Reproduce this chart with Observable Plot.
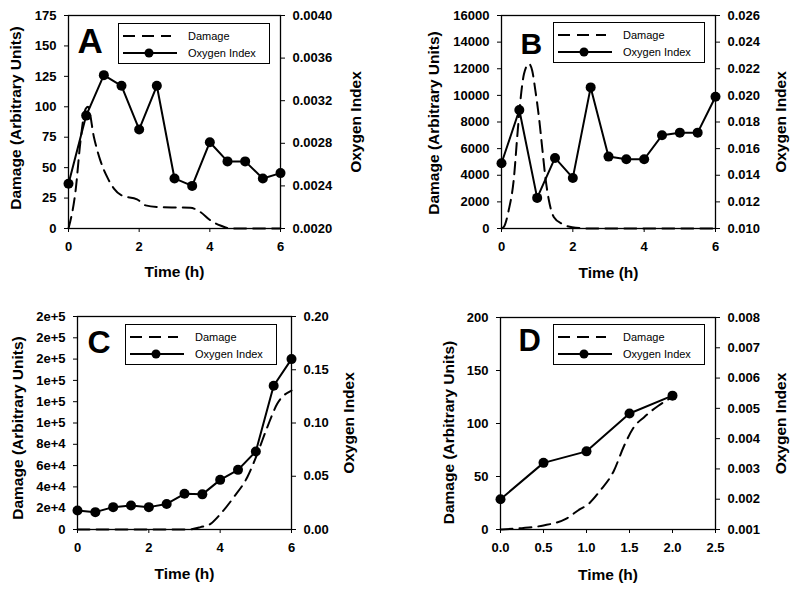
<!DOCTYPE html>
<html>
<head>
<meta charset="utf-8">
<script src="https://cdn.jsdelivr.net/npm/d3@7"></script>
<script src="https://cdn.jsdelivr.net/npm/@observablehq/plot@0.6"></script>
<style>
  body { margin: 0; background: #fff; }
  #root { position: relative; width: 800px; height: 594px; font-family: "Liberation Sans", Arial, sans-serif; color: #000; }
  .panel { position: absolute; width: 400px; height: 297px; }
  .panel svg.layer { position: absolute; left: 0; top: 0; }
  .legend { position: absolute; width: 150px; height: 39px; border: 1px solid #000; background: #fff; }
  .legend svg { display: block; }
</style>
</head>
<body>
<div id="root"></div>
<script>
// ---------- Panel A ----------
const timeA = [0, 0.5, 1, 1.5, 2, 2.5, 3, 3.5, 4, 4.5, 5, 5.5, 6];
const oxygenA = [0.00242, 0.00306, 0.00344, 0.00334, 0.00293, 0.00334, 0.00247, 0.00240, 0.00281, 0.00263, 0.00263, 0.00247, 0.00252];
const damageTimeA = [0, 0.2, 0.34, 0.48, 0.55, 0.72, 0.9, 1.1, 1.28, 1.52, 1.94, 2.18, 2.6, 3.45, 3.74, 4.02, 4.3, 4.6, 5, 5.5, 6];
const damageA = [0, 31, 72, 98, 100, 75, 56, 42, 33, 27, 24, 19, 17.5, 17, 13.4, 6.6, 2.5, 0, 0, 0, 0];
const damageTicksA = [0, 25, 50, 75, 100, 125, 150, 175];
const oxygenTicksA = [0.0020, 0.0024, 0.0028, 0.0032, 0.0036, 0.0040];

// ---------- Panel B ----------
const timeB = [0, 0.5, 1, 1.5, 2, 2.5, 3, 3.5, 4, 4.5, 5, 5.5, 6];
const oxygenB = [0.0149, 0.0189, 0.0123, 0.0153, 0.0138, 0.0206, 0.0154, 0.0152, 0.0152, 0.0170, 0.0172, 0.0172, 0.0199];
const damageTimeB = [0, 0.06, 0.2, 0.35, 0.44, 0.53, 0.63, 0.77, 0.86, 0.95, 1.05, 1.14, 1.23, 1.33, 1.47, 1.7, 1.98, 2.5, 3, 4, 5, 6];
const damageB = [0, 100, 1350, 3850, 6860, 9600, 11600, 12370, 11870, 10360, 8360, 6100, 3850, 2100, 850, 350, 100, 0, 0, 0, 0, 0];
const damageTicksB = [0, 2000, 4000, 6000, 8000, 10000, 12000, 14000, 16000];
const oxygenTicksB = [0.010, 0.012, 0.014, 0.016, 0.018, 0.020, 0.022, 0.024, 0.026];

// ---------- Panel C ----------
const timeC = [0, 0.5, 1, 1.5, 2, 2.5, 3, 3.5, 4, 4.5, 5, 5.5, 6];
const oxygenC = [0.0178, 0.0163, 0.0210, 0.0225, 0.0210, 0.0240, 0.0335, 0.0330, 0.0466, 0.0560, 0.0732, 0.135, 0.160];
const damageTimeC = [0, 1, 2, 3, 3.2, 3.45, 3.73, 4.01, 4.38, 4.76, 5.04, 5.32, 5.6, 6];
const damageC = [0, 0, 0, 0, 300, 2200, 5300, 14600, 30300, 49100, 71000, 96000, 118000, 130500];
const damageTicksC = [0, 20000, 40000, 60000, 80000, 100000, 120000, 140000, 160000, 180000, 200000];
const oxygenTicksC = [0, 0.05, 0.10, 0.15, 0.20];

// ---------- Panel D ----------
const timeD = [0, 0.5, 1, 1.5, 2];
const oxygenD = [0.0020, 0.0032, 0.00358, 0.00483, 0.00542];
const damageTimeD = [0, 0.25, 0.5, 0.76, 0.93, 1.0, 1.16, 1.32, 1.43, 1.55, 1.67, 1.84, 2.0];
const damageD = [0, 1.3, 3.8, 10, 19.5, 22.6, 36.8, 55.7, 77.6, 96.5, 106, 117, 125];
const damageTicksD = [0, 50, 100, 150, 200];
const oxygenTicksD = [0.001, 0.002, 0.003, 0.004, 0.005, 0.006, 0.007, 0.008];

const timeTicks6 = [0, 2, 4, 6];
const timeTicksD = [0, 0.5, 1, 1.5, 2, 2.5];
const panelLetters = ["A", "B", "C", "D"];
const xTitle = "Time (h)";
const yTitleLeft = "Damage (Arbitrary Units)";
const yTitleRight = "Oxygen Index";
const legendLabels = ["Damage", "Oxygen Index"];

const FONT = '"Liberation Sans", Arial, sans-serif';
const TITLE_SIZE = 15.5;
const TICK_SIZE = 13;

const panels = [
  { letter: panelLetters[0], left: 0, top: 0,
    margin: { top: 15, right: 120, bottom: 69, left: 68 },
    xDomain: [0, 6], xTicks: timeTicks6, xFormat: d3.format("d"),
    yDomain: [0, 175], yTicks: damageTicksA, yFormat: d3.format("d"),
    oDomain: [0.0020, 0.0040], oTicks: oxygenTicksA, oFormat: d3.format(".4f"),
    time: timeA, oxygen: oxygenA, dTime: damageTimeA, damage: damageA,
    letterDx: 9, letterDy: 37, letterSize: 35,
    leftDx: -52, leftDy: -4, rightDx: 76, bottomDy: 44,
    legend: { x: 118, y: 23 } },
  { letter: panelLetters[1], left: 400, top: 0,
    margin: { top: 15, right: 85, bottom: 69, left: 101 },
    xDomain: [0, 6], xTicks: timeTicks6, xFormat: d3.format("d"),
    yDomain: [0, 16000], yTicks: damageTicksB, yFormat: d3.format("d"),
    oDomain: [0.010, 0.026], oTicks: oxygenTicksB, oFormat: d3.format(".3f"),
    time: timeB, oxygen: oxygenB, dTime: damageTimeB, damage: damageB,
    letterDx: 19, letterDy: 38, letterSize: 30,
    leftDx: -67.5, leftDy: 1, rightDx: 66, bottomDy: 45,
    legend: { x: 153, y: 22 } },
  { letter: panelLetters[2], left: 0, top: 297,
    margin: { top: 19, right: 109, bottom: 65, left: 77 },
    xDomain: [0, 6], xTicks: timeTicks6, xFormat: d3.format("d"),
    yDomain: [0, 200000], yTicks: damageTicksC, yFormat: d => d === 0 ? "0" : d3.format(".0e")(d),
    oDomain: [0, 0.20], oTicks: oxygenTicksC, oFormat: d3.format(".2f"),
    time: timeC, oxygen: oxygenC, dTime: damageTimeC, damage: damageC,
    letterDx: 10, letterDy: 36, letterSize: 32,
    leftDx: -59.5, leftDy: 5, rightDx: 58, bottomDy: 45,
    legend: { x: 125, y: 27 } },
  { letter: panelLetters[3], left: 400, top: 297,
    margin: { top: 20, right: 85, bottom: 65, left: 100 },
    xDomain: [0, 2.5], xTicks: timeTicksD, xFormat: d3.format(".1f"),
    yDomain: [0, 200], yTicks: damageTicksD, yFormat: d3.format("d"),
    oDomain: [0.001, 0.008], oTicks: oxygenTicksD, oFormat: d3.format(".3f"),
    time: timeD, oxygen: oxygenD, dTime: damageTimeD, damage: damageD,
    letterDx: 18, letterDy: 33, letterSize: 31,
    leftDx: -51, leftDy: 9, rightDx: 66, bottomDy: 46,
    legend: { x: 153, y: 27 } }
];

const root = document.getElementById("root");

function makePanel(p) {
  const div = document.createElement("div");
  div.className = "panel";
  div.style.left = p.left + "px";
  div.style.top = p.top + "px";

  const damageRows = p.dTime.map((t, i) => ({ t, v: p.damage[i] }));
  const oxygenRows = p.time.map((t, i) => ({ t, v: p.oxygen[i] }));
  const common = {
    width: 400, height: 297,
    marginTop: p.margin.top, marginRight: p.margin.right,
    marginBottom: p.margin.bottom, marginLeft: p.margin.left,
    style: { background: "none", fontFamily: FONT, color: "#000", overflow: "visible" }
  };

  const base = Plot.plot({
    ...common,
    x: { domain: p.xDomain },
    y: { domain: p.yDomain },
    marks: [
      Plot.axisX({ ticks: p.xTicks, tickFormat: p.xFormat, tickSize: 4, tickPadding: 9,
                   fontSize: TICK_SIZE, fontWeight: "bold", label: null, stroke: "#000" }),
      Plot.axisY({ ticks: p.yTicks, tickFormat: p.yFormat, tickSize: 4, tickPadding: 8,
                   fontSize: TICK_SIZE, fontWeight: "bold", label: null, stroke: "#000" }),
      Plot.frame({ stroke: "#000", strokeWidth: 1.3 }),
      Plot.line(damageRows, { x: "t", y: "v", stroke: "#000", strokeWidth: 2,
                              strokeDasharray: "12,7", curve: "monotone-x" }),
      Plot.text([p.letter], { frameAnchor: "top-left", text: d => d, dx: p.letterDx, dy: p.letterDy,
                              textAnchor: "start", lineAnchor: "bottom", fontSize: p.letterSize,
                              fontWeight: "bold", fill: "#000" }),
      Plot.text([yTitleLeft], { frameAnchor: "left", text: d => d, rotate: -90, dx: p.leftDx, dy: p.leftDy,
                                textAnchor: "middle", lineAnchor: "middle",
                                fontSize: TITLE_SIZE, fontWeight: "bold", fill: "#000" }),
      Plot.text([xTitle], { frameAnchor: "bottom", text: d => d, dy: p.bottomDy,
                            textAnchor: "middle", lineAnchor: "middle",
                            fontSize: TITLE_SIZE, fontWeight: "bold", fill: "#000" })
    ]
  });
  base.classList.add("layer");

  const over = Plot.plot({
    ...common,
    x: { domain: p.xDomain, axis: null },
    y: { domain: p.oDomain },
    marks: [
      Plot.axisY({ anchor: "right", ticks: p.oTicks, tickFormat: p.oFormat, tickSize: 4, tickPadding: 8,
                   fontSize: TICK_SIZE, fontWeight: "bold", label: null, stroke: "#000" }),
      Plot.line(oxygenRows, { x: "t", y: "v", stroke: "#000", strokeWidth: 2 }),
      Plot.dot(oxygenRows, { x: "t", y: "v", r: 5, fill: "#000", stroke: "none" }),
      Plot.text([yTitleRight], { frameAnchor: "right", text: d => d, rotate: -90, dx: p.rightDx,
                                 textAnchor: "middle", lineAnchor: "middle",
                                 fontSize: TITLE_SIZE, fontWeight: "bold", fill: "#000" })
    ]
  });
  over.classList.add("layer");

  div.appendChild(base);
  div.appendChild(over);

  // legend
  const lg = document.createElement("div");
  lg.className = "legend";
  lg.style.left = p.legend.x + "px";
  lg.style.top = p.legend.y + "px";
  lg.innerHTML = `<svg width="150" height="39" font-family='${FONT}' font-size="11">
    <line x1="4" x2="52" y1="12" y2="12" stroke="#000" stroke-width="2" stroke-dasharray="12,7"/>
    <line x1="4" x2="58" y1="29" y2="29" stroke="#000" stroke-width="2"/>
    <circle cx="30" cy="29" r="4.5" fill="#000"/>
    <text x="69" y="16">${legendLabels[0]}</text>
    <text x="69" y="33">${legendLabels[1]}</text>
  </svg>`;
  div.appendChild(lg);
  return div;
}

panels.forEach(p => root.appendChild(makePanel(p)));
</script>
</body>
</html>
